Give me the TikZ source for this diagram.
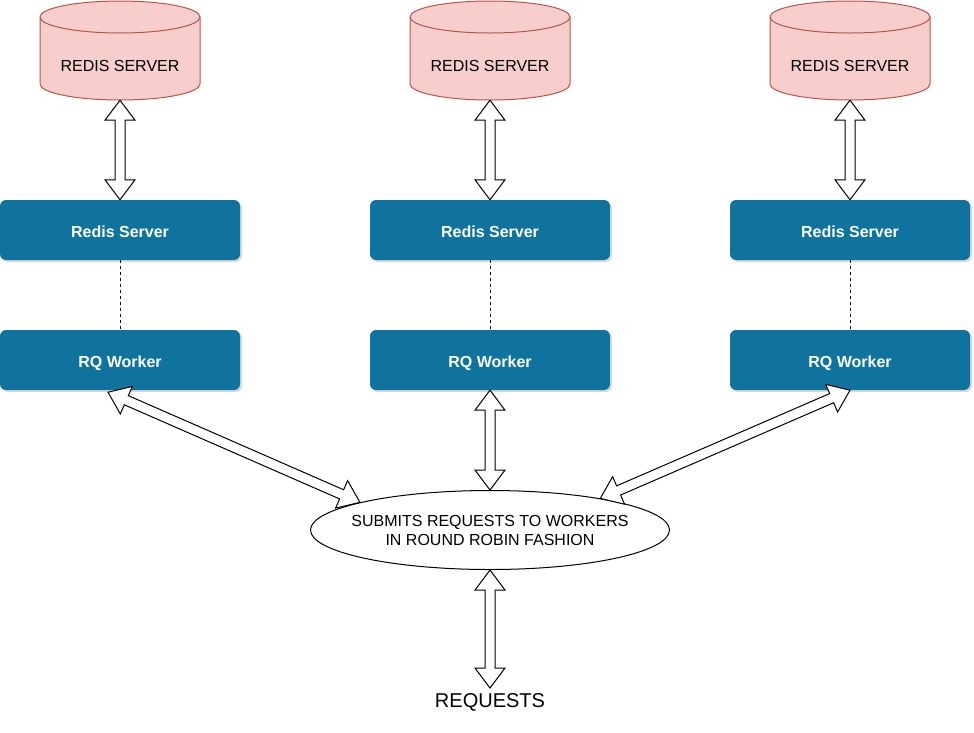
\documentclass[tikz,border=0pt]{standalone}
\usepackage{fontspec}
\setmainfont{Liberation Sans}
\usetikzlibrary{calc,shadows,shapes.geometric}
\definecolor{boxblue}{HTML}{10739E}
\definecolor{cylfill}{HTML}{F8CECC}
\definecolor{cylline}{HTML}{B85450}
\tikzset{
  bluebox/.style={rectangle, rounded corners=6pt, fill=boxblue, draw=none, text=white,
    font=\fontsize{16}{19}\selectfont\bfseries, minimum width=240pt, minimum height=60pt,
    text height=15.5pt, text depth=0pt,
    inner sep=0pt, drop shadow={shadow xshift=2pt, shadow yshift=-2pt, opacity=0.3, fill=gray}},
  cylslot/.style={rectangle, minimum width=160pt, minimum height=100pt, inner sep=0pt,
    font=\fontsize{16}{19}\selectfont},
  cylshape/.style={fill=cylfill, draw=cylline, line width=1pt},
  barrow/.style={draw=black, fill=white, line width=1pt, line join=miter},
  dashline/.style={draw=black, line width=0.8pt, dash pattern=on 3pt off 3pt},
  plaintext/.style={font=\fontsize{16}{19}\selectfont, inner sep=0pt, align=center},
}
\newcommand{\cylat}[1]{%
  \path[cylshape] ($(#1)+(-80,-17)$) -- ($(#1)+(-80,-84)$) arc (180:360:80 and 16)
     -- ($(#1)+(80,-17)$) arc (0:180:80 and 16) -- cycle;
  \draw[cylline, line width=1pt] ($(#1)+(-80,-17)$) arc (180:360:80 and 16);
}
\newcommand{\dblarrow}[2]{%
  \coordinate (ha) at ($(#1)!20pt!(#2)$);
  \coordinate (hb) at ($(#2)!20pt!(#1)$);
  \draw[barrow] (#1) -- ($(ha)!15pt!90:(#2)$) -- ($(ha)!5pt!90:(#2)$)
    -- ($(hb)!5pt!-90:(#1)$) -- ($(hb)!15pt!-90:(#1)$) -- (#2)
    -- ($(hb)!15pt!90:(#1)$) -- ($(hb)!5pt!90:(#1)$)
    -- ($(ha)!5pt!-90:(#2)$) -- ($(ha)!15pt!-90:(#2)$) -- cycle;
}
\begin{document}
\begin{tikzpicture}[x=1pt,y=1pt]
\useasboundingbox (0,0) rectangle (974,-732);
% cylinder tops
\coordinate (ct1) at (120,0);
\coordinate (ct2) at (490,0);
\coordinate (ct3) at (850,0);
\cylat{ct1}\cylat{ct2}\cylat{ct3}
\node[cylslot] (cyl1) at (120,-50) {};
\node[cylslot] (cyl2) at (490,-50) {};
\node[cylslot] (cyl3) at (850,-50) {};
\node[plaintext] (cl1) at (120,-65.5) {REDIS SERVER};
\node[plaintext] (cl2) at (490,-65.5) {REDIS SERVER};
\node[plaintext] (cl3) at (850,-65.5) {REDIS SERVER};
% blue boxes
\node[bluebox] (rs1) at (120,-230) {Redis Server};
\node[bluebox] (rs2) at (490,-230) {Redis Server};
\node[bluebox] (rs3) at (850,-230) {Redis Server};
\node[bluebox] (rq1) at (120,-360) {RQ Worker};
\node[bluebox] (rq2) at (490,-360) {RQ Worker};
\node[bluebox] (rq3) at (850,-360) {RQ Worker};
% dashed
\draw[dashline] (rs1.south) -- (rq1.north);
\draw[dashline] (rs2.south) -- (rq2.north);
\draw[dashline] (rs3.south) -- (rq3.north);
% ellipse
\node[ellipse, draw=black, line width=1pt, fill=white, minimum width=359pt, minimum height=79pt,
  inner sep=0pt] (ell) at (490,-530) {};
\node[plaintext] (elltext) at (490,-530.5) {SUBMITS REQUESTS TO WORKERS\\IN ROUND ROBIN FASHION};
\node[font=\fontsize{20}{24}\selectfont, inner sep=0pt] (req) at (490,-702) {REQUESTS};
\coordinate (reqtop) at (490,-688);
% arrows
\dblarrow{cyl1.south}{rs1.north}
\dblarrow{cyl2.south}{rs2.north}
\dblarrow{cyl3.south}{rs3.north}
\coordinate (w1) at ($(rq1.south)+(-12,-2)$);
\dblarrow{w1}{ell.168}
\dblarrow{rq2.south}{ell.north}
\dblarrow{rq3.south}{ell.16}
\dblarrow{ell.south}{reqtop}
\end{tikzpicture}
\end{document}
